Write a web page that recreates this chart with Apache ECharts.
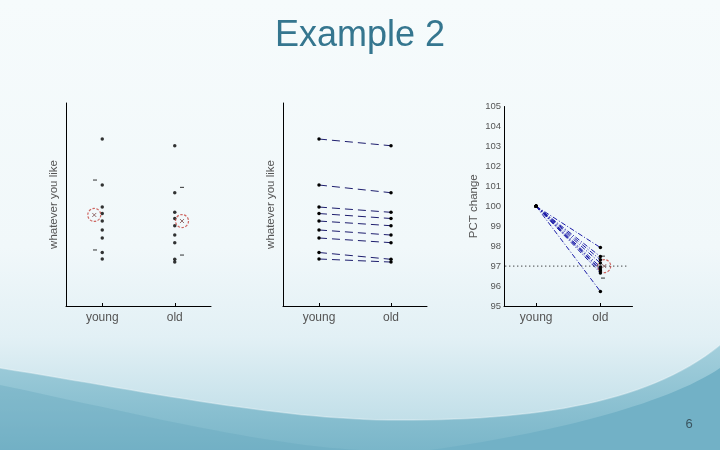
<!DOCTYPE html>
<html>
<head>
<meta charset="utf-8">
<script src="https://cdn.jsdelivr.net/npm/echarts@6/dist/echarts.min.js"></script>
<style>
html,body{margin:0;padding:0;}
#chart{width:720px;height:450px;}
</style>
</head>
<body>
<div id="chart"></div>
<script>
// ---- data ----
const categories = ['young', 'old'];
const youngValues = [16.45, 11.92, 9.75, 9.11, 8.37, 7.49, 6.70, 5.27, 4.63];
const oldValues   = [15.79, 11.16, 9.23, 8.62, 7.91, 6.99, 6.24, 4.60, 4.33];
const groupMeans  = [8.97, 8.37];            // young, old (circled markers)
const youngSdMarks = [12.41, 5.52];
const oldSdMarks   = [11.69, 5.02];
const pctYoung = [100, 100, 100, 100, 100, 100, 100, 100, 100];
const pctOld   = [97.93, 97.48, 97.32, 97.15, 96.95, 96.85, 96.77, 96.66, 95.73];
const pctMean  = 97.0;
const pctSdMarks = [97.5, 96.4];
const pctRefLine = 97;
const pctTicks = [95, 105];
const yNames = ['whatever you like', 'whatever you like', 'PCT change'];
const titleText = 'Example 2';
const pageNumber = '6';

// ---- layout / style ----
const FONT = 'Liberation Sans, Arial, sans-serif';
const POS = [0.5, 1.5];
const grids = [
  {left: 66, top: 103, width: 145, height: 203},
  {left: 283, top: 103, width: 144, height: 203},
  {left: 504, top: 106.5, width: 128.5, height: 199.5}
];

// background wave helper (decoration only)
function bez(p0, p1, p2, p3, n) {
  const pts = [];
  for (let i = 0; i <= n; i++) {
    const t = i / n, u = 1 - t;
    pts.push([
      u*u*u*p0[0] + 3*u*u*t*p1[0] + 3*u*t*t*p2[0] + t*t*t*p3[0],
      u*u*u*p0[1] + 3*u*u*t*p1[1] + 3*u*t*t*p2[1] + t*t*t*p3[1]
    ]);
  }
  return pts;
}
const waveTop = bez([0,368],[150,392],[280,420],[400,420],30)
  .concat(bez([400,420],[540,420],[650,402],[720,345],30));
const waveA = waveTop.concat([[720,450],[0,450]]);
const waveB = bez([0,385],[120,410],[260,445],[360,450],30).concat([[0,450]]);
const waveC = bez([430,450],[560,432],[670,402],[720,368],30).concat([[720,450]]);

function xAxisFor(i) {
  return {
    gridIndex: i, type: 'value', min: 0, max: 2,
    axisLine: {lineStyle: {color: '#000', width: 1}},
    axisTick: {show: true, inside: true, length: 3, customValues: POS, lineStyle: {color: '#000'}},
    axisLabel: {customValues: POS, formatter: v => v < 1 ? categories[0] : categories[1],
      color: '#555', fontSize: 12, fontFamily: FONT, margin: 6},
    splitLine: {show: false}
  };
}
function yAxisFor(i) {
  const base = {
    gridIndex: i, type: 'value',
    name: yNames[i], nameLocation: 'middle', nameRotate: 90,
    nameTextStyle: {color: '#555', fontSize: 11.5, fontFamily: FONT},
    axisLine: {show: true, lineStyle: {color: '#000', width: 1}},
    splitLine: {show: false}
  };
  if (i < 2) {
    return Object.assign(base, {min: 0, max: 20, nameGap: 6,
      axisTick: {show: false}, axisLabel: {show: false}});
  }
  return Object.assign(base, {min: pctTicks[0], max: pctTicks[1], interval: 1, nameGap: 24,
    axisTick: {show: false},
    axisLabel: {color: '#555', fontSize: 9.5, fontFamily: FONT, margin: 3}});
}

const series = [];
const DOT = {symbol: 'circle', symbolSize: 3.5, itemStyle: {color: '#000'}};
const meanCircle = {symbol: 'circle', symbolSize: 13,
  itemStyle: {color: 'rgba(0,0,0,0)', borderColor: '#c4403a', borderWidth: 1.2, borderType: [2.5, 1.5]}};
const meanX = {symbol: 'path://M0,0L10,10M10,0L0,10', symbolSize: 4,
  itemStyle: {color: 'rgba(0,0,0,0)', borderColor: '#7a4a4a', borderWidth: 1}};
const dash = {symbol: 'rect', symbolSize: [4, 1], itemStyle: {color: '#000'}};

// Panel 1: scatter
series.push(Object.assign({type: 'scatter', xAxisIndex: 0, yAxisIndex: 0,
  data: youngValues.map(v => [POS[0], v]).concat(oldValues.map(v => [POS[1], v]))}, DOT));
const meanData1 = [[0.39, groupMeans[0]], [1.6, groupMeans[1]]];
series.push(Object.assign({type: 'scatter', xAxisIndex: 0, yAxisIndex: 0, data: meanData1}, meanCircle));
series.push(Object.assign({type: 'scatter', xAxisIndex: 0, yAxisIndex: 0, data: meanData1}, meanX));
series.push(Object.assign({type: 'scatter', xAxisIndex: 0, yAxisIndex: 0,
  data: youngSdMarks.map(v => [0.4, v]).concat(oldSdMarks.map(v => [1.6, v]))}, dash));

// Panel 2: paired dashed lines
youngValues.forEach((v, k) => {
  series.push(Object.assign({type: 'line', xAxisIndex: 1, yAxisIndex: 1,
    data: [[POS[0], v], [POS[1], oldValues[k]]],
    lineStyle: {color: '#1e1e6e', width: 1, type: [8, 5]}, silent: true}, DOT));
});

// Panel 3: pct change lines
pctYoung.forEach((v, k) => {
  series.push(Object.assign({type: 'line', xAxisIndex: 2, yAxisIndex: 2,
    data: [[POS[0], v], [POS[1], pctOld[k]]],
    lineStyle: {color: '#1c1ca8', width: 1, type: [5, 2, 1, 2]}}, DOT));
});
series.push({type: 'line', xAxisIndex: 2, yAxisIndex: 2, symbol: 'none',
  data: [[0.02, pctRefLine], [1.91, pctRefLine]],
  lineStyle: {color: '#000', width: 1, type: [1, 3]}});
const meanData3 = [[1.56, pctMean]];
series.push(Object.assign({type: 'scatter', xAxisIndex: 2, yAxisIndex: 2, data: meanData3}, meanCircle));
series.push(Object.assign({type: 'scatter', xAxisIndex: 2, yAxisIndex: 2, data: meanData3}, meanX));
series.push(Object.assign({type: 'scatter', xAxisIndex: 2, yAxisIndex: 2,
  data: pctSdMarks.map(v => [1.54, v])}, dash));

const chart = echarts.init(document.getElementById('chart'), null, {renderer: 'canvas'});
chart.setOption({
  animation: false,
  backgroundColor: {type: 'linear', x: 0, y: 0, x2: 0, y2: 1, colorStops: [
    {offset: 0, color: '#f6fbfc'}, {offset: 0.55, color: '#f1f8fa'},
    {offset: 0.75, color: '#e2f0f5'}, {offset: 1, color: '#b6d9e4'}]},
  title: {text: titleText, left: 'center', top: 13,
    textStyle: {color: '#35768f', fontSize: 36, fontWeight: 'normal', fontFamily: FONT}},
  graphic: [
    {type: 'polygon', z: -10, silent: true,
      shape: {points: waveA},
      style: {fill: {type: 'linear', x: 0, y: 0, x2: 0, y2: 1, colorStops: [
        {offset: 0, color: '#a3cfdc'}, {offset: 1, color: '#7ab6c9'}]}}},
    {type: 'polyline', z: -9, silent: true,
      shape: {points: waveTop},
      style: {stroke: 'rgba(255,255,255,0.3)', lineWidth: 1.5, fill: null}},
    {type: 'polygon', z: -9, silent: true,
      shape: {points: waveB},
      style: {fill: 'rgba(100,166,190,0.35)'}},
    {type: 'polygon', z: -9, silent: true,
      shape: {points: waveC},
      style: {fill: '#72b1c6'}},
    {type: 'text', x: 689, y: 424, silent: true,
      style: {text: pageNumber, fill: '#3a5560', fontSize: 13, fontFamily: FONT,
        align: 'center', verticalAlign: 'middle'}}
  ],
  grid: grids,
  xAxis: [0, 1, 2].map(xAxisFor),
  yAxis: [0, 1, 2].map(yAxisFor),
  series: series
});
</script>
</body>
</html>
